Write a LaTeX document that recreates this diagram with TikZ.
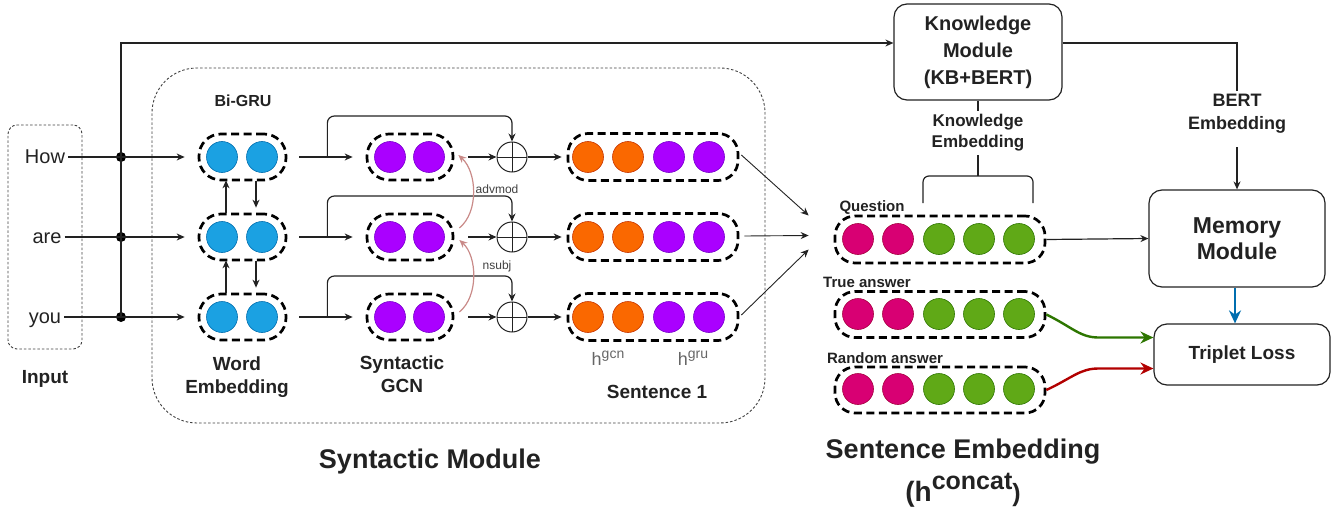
\documentclass[tikz,border=0pt]{standalone}
\usepackage{fontspec}
\setmainfont{Liberation Sans}
\usetikzlibrary{arrows.meta,calc}
\definecolor{cblue}{HTML}{1BA1E2}
\definecolor{cblueS}{HTML}{006EAF}
\definecolor{cpurp}{HTML}{AA00FF}
\definecolor{cpurpS}{HTML}{7700CC}
\definecolor{corange}{HTML}{FA6800}
\definecolor{corangeS}{HTML}{C73500}
\definecolor{cmag}{HTML}{D80073}
\definecolor{cmagS}{HTML}{A50040}
\definecolor{cgreen}{HTML}{60A917}
\definecolor{cgreenS}{HTML}{2D7600}
\definecolor{cred}{HTML}{B20000}
\definecolor{crel}{HTML}{C98A88}
\definecolor{ctxt}{HTML}{222222}
\newcommand\myfs[2]{\fontsize{#1}{#2}\selectfont}
\tikzset{
  ln/.style={draw=ctxt, line width=1.2pt},
  conn/.style={ln, -{Stealth[length=8pt,width=7pt]}},
  connthin/.style={draw=ctxt, line width=0.9pt, -{Stealth[length=8pt,width=7pt]}},
  vec/.style={draw=black, line width=2.7pt, dash pattern=on 8pt off 4.5pt, rounded corners=20pt, minimum height=46pt, inner sep=0pt},
  dotbase/.style={circle, minimum size=31pt, inner sep=0pt, line width=0.6pt},
  dblue/.style={dotbase, fill=cblue, draw=cblueS},
  dpurp/.style={dotbase, fill=cpurp, draw=cpurpS},
  dorange/.style={dotbase, fill=corange, draw=corangeS},
  dmag/.style={dotbase, fill=cmag, draw=cmagS},
  dgreen/.style={dotbase, fill=cgreen, draw=cgreenS},
  junc/.style={circle, fill=black, minimum size=10pt, inner sep=0pt},
  plusnode/.style={circle, draw=ctxt, line width=1pt, minimum size=30pt, inner sep=0pt,
    path picture={\draw[ctxt, line width=1pt] (path picture bounding box.north) -- (path picture bounding box.south) (path picture bounding box.west) -- (path picture bounding box.east);}},
  thindash/.style={draw=black!75, line width=0.9pt, dash pattern=on 2.5pt off 2pt},
  word/.style={font=\myfs{20}{24}, text=ctxt, text height=15pt, text depth=3pt, inner sep=3pt},
  lbl/.style={font=\bfseries\myfs{19}{23}, text=ctxt, align=center},
  small/.style={font=\bfseries\myfs{15}{18}, text=ctxt},
  rellbl/.style={font=\myfs{12}{14}, text=black!75},
  modbox/.style={draw=ctxt, line width=1.2pt, rounded corners=13pt, align=center, text=ctxt},
  rel/.style={draw=crel, line width=1.2pt, -{Stealth[length=8pt,width=7pt]}},
  bigarrow/.style={line width=2.4pt, -{Stealth[length=13pt,width=12pt]}},
}
\begin{document}
\begin{tikzpicture}[x=1pt,y=-1pt]
\useasboundingbox (0,0) rectangle (1343,508);

% module frames
\node[thindash, rounded corners=9pt, minimum width=74pt, minimum height=224pt] (inbox) at (45,237) {};
\node[thindash, rounded corners=45pt, minimum width=613pt, minimum height=355pt] (synbox) at (458.5,245.5) {};

% input words
\node[word] (how) at (45,157) {How};
\node[word] (are) at (47,237) {are};
\node[word] (you) at (45,317) {you};
\node[lbl] (input) at (45,379) {Input};

% Bi-GRU vectors
\node[vec, rounded corners=22pt, minimum width=87pt] (g1) at (242.5,157) {};
\node[vec, rounded corners=22pt, minimum width=87pt] (g2) at (242.5,237) {};
\node[vec, rounded corners=22pt, minimum width=87pt] (g3) at (242.5,317) {};
\foreach \r/\y in {1/157,2/237,3/317}{
  \node[dblue] (g\r a) at (222,\y) {};
  \node[dblue] (g\r b) at (262,\y) {};
}
\node[lbl, font=\bfseries\myfs{16}{19}] (bigru) at (243,101) {Bi-GRU};
\node[lbl] (wordemb) at (237,377) {Word\\Embedding};

% GCN vectors
\foreach \r/\y in {1/157,2/237,3/317}{
  \node[vec, rounded corners=22pt, minimum width=86pt] (c\r) at (410,\y) {};
  \node[dpurp] (c\r a) at (390,\y) {};
  \node[dpurp] (c\r b) at (429,\y) {};
  \node[plusnode] (p\r) at (512,\y) {};
  \node[vec, minimum width=170pt, minimum height=47pt] (s\r) at (653,\y) {};
  \node[dorange] (s\r a) at (588,\y) {};
  \node[dorange] (s\r b) at (628,\y) {};
  \node[dpurp] (s\r c) at (669,\y) {};
  \node[dpurp] (s\r d) at (709,\y) {};
}
\node[lbl] (gcnlbl) at (402,374) {Syntactic\\GCN};
\node[lbl] (sent1) at (657,392) {Sentence 1};
\node[text=black!60, inner sep=0pt] (hgcn) at (608,358) {{\myfs{18}{18}h}\raisebox{7pt}{\myfs{14}{14}gcn}};
\node[text=black!60, inner sep=0pt] (hgru) at (693,358) {{\myfs{18}{18}h}\raisebox{7pt}{\myfs{14}{14}gru}};
\node[lbl, font=\bfseries\myfs{27}{30}] (synmod) at (430,462) {Syntactic Module};

% input connectors
\node[junc] (j1) at (121,157) {};
\node[junc] (j2) at (121,237) {};
\node[junc] (j3) at (121,317) {};
\draw[conn] (how.east) -- ($(g1.west)+(-13,0)$);
\draw[conn] (are.east) -- ($(g2.west)+(-13,0)$);
\draw[conn] (you.east) -- ($(g3.west)+(-13,0)$);

% knowledge module
\node[modbox, minimum width=168pt, minimum height=96pt, font=\bfseries\myfs{20}{27}] (km) at (978,52) {Knowledge\\Module\\(KB+BERT)};
\coordinate (top) at (121,43);
\draw[conn] (j3.center) -- (top) -- (top -| km.west);

% Bi-GRU internal arrows
\draw[conn] ($(g2.north)+(-16.5,0)$) -- ($(g1.south)+(-16.5,-1)$);
\draw[conn] ($(g1.south)+(13.5,0)$) -- ($(g2.north)+(13.5,-5)$);
\draw[conn] ($(g3.north)+(-16.5,0)$) -- ($(g2.south)+(-16.5,-1)$);
\draw[conn] ($(g2.south)+(13.5,0)$) -- ($(g3.north)+(13.5,-5)$);

% GRU -> GCN -> plus -> sentence
\foreach \r in {1,2,3}{
  \draw[conn] ($(g\r.east)+(12,0)$) -- ($(c\r.west)+(-13,0)$);
  \draw[conn, rounded corners=7pt] ($(g\r.east)+(40,0)$) -- ++(0,-41) -| (p\r.north);
  \draw[conn] ($(c\r.east)+(14,0)$) -- (p\r.west);
  \draw[conn] (p\r.east) -- ($(s\r.west)+(-5,0)$);
}

% dependency relations
\draw[rel] ($(c2.east)+(5,-9)$) .. controls (479,212) and (477,172) .. ($(c1.east)+(4,-2)$);
\draw[rel] ($(c3.east)+(5,-5)$) .. controls (479,296) and (477,256) .. ($(c2.east)+(5,3)$);
\node[rellbl] (advmod) at (497,189) {advmod};
\node[rellbl] (nsubj) at (497,266) {nsubj};

% sentence embedding vectors
\node[vec, minimum width=210pt, minimum height=47pt] (q) at (940,239.5) {};
\node[vec, minimum width=210pt, minimum height=46pt] (ta) at (940,314.5) {};
\node[vec, minimum width=210pt, minimum height=46pt] (ra) at (940,390) {};
\foreach \n/\y in {q/239,ta/314,ra/389}{
  \node[dmag] (\n a) at (858,\y) {};
  \node[dmag] (\n b) at (898,\y) {};
  \node[dgreen] (\n c) at (939,\y) {};
  \node[dgreen] (\n d) at (979,\y) {};
  \node[dgreen] (\n e) at (1019,\y) {};
}
\node[small] (qlbl) at (872,208) {Question};
\node[small] (talbl) at (867,282) {True answer};
\node[small] (ralbl) at (885,358) {Random answer};

\draw[connthin] ($(s1.east)+(2,-2)$) -- ($(q.west)+(-25,-24)$);
\draw[connthin] ($(s2.east)+(5,-1)$) -- ($(q.west)+(-25,-4)$);
\draw[connthin] ($(s3.east)+(2,-2)$) -- ($(q.west)+(-25,10)$);

\node[lbl, font=\bfseries\myfs{27}{30}] (sentemb) at (963,452) {Sentence Embedding};
\node[lbl, anchor=base, inner sep=0pt] (hcat) at (963,501) {{\myfs{28}{28}(h}\raisebox{12pt}{\myfs{25}{25}concat}{\myfs{25}{25})}};

% knowledge embedding
\node[lbl, font=\bfseries\myfs{17}{21}] (ke) at (978,133) {Knowledge\\Embedding};
\draw[ln] (km.south) -- (ke.north);
\coordinate (brl) at (923,203);
\coordinate (brr) at (1033,203);
\draw[ln] (ke.south) -- (ke.south |- 0,176);
\draw[ln, rounded corners=6pt] (brl) -- (brl |- 0,176) -- (brr |- 0,176) -- (brr);

% memory and triplet loss
\node[modbox, minimum width=176pt, minimum height=97pt, font=\bfseries\myfs{23}{26}] (mem) at (1237,238.5) {Memory\\Module};
\node[modbox, minimum width=176pt, minimum height=61pt, font=\bfseries\myfs{19}{22}] (tl) at (1242,354.5) {Triplet Loss};
\node[lbl, font=\bfseries\myfs{18}{23}] (be) at (1237,114) {BERT\\Embedding};
\draw[ln] (top -| km.east) -| (be.north);
\draw[conn] ($(be.south)+(0,10)$) -- (mem.north);
\draw[conn] (q.east) -- (mem.west);
\draw[bigarrow, draw=cblueS] ($(mem.south)+(-2,0)$) -- ($(mem.south |- tl.north)+(-2,0)$);
\draw[bigarrow, draw=cgreenS] (ta.east) .. controls (1072,327) and (1080,337.5) .. ($(tl.west)+(-55,-17)$) -- ($(tl.west)+(0,-17)$);
\draw[bigarrow, draw=cred] (ra.east) .. controls (1072,378) and (1080,368.5) .. ($(tl.west)+(-55,14)$) -- ($(tl.west)+(0,14)$);
\end{tikzpicture}
\end{document}
